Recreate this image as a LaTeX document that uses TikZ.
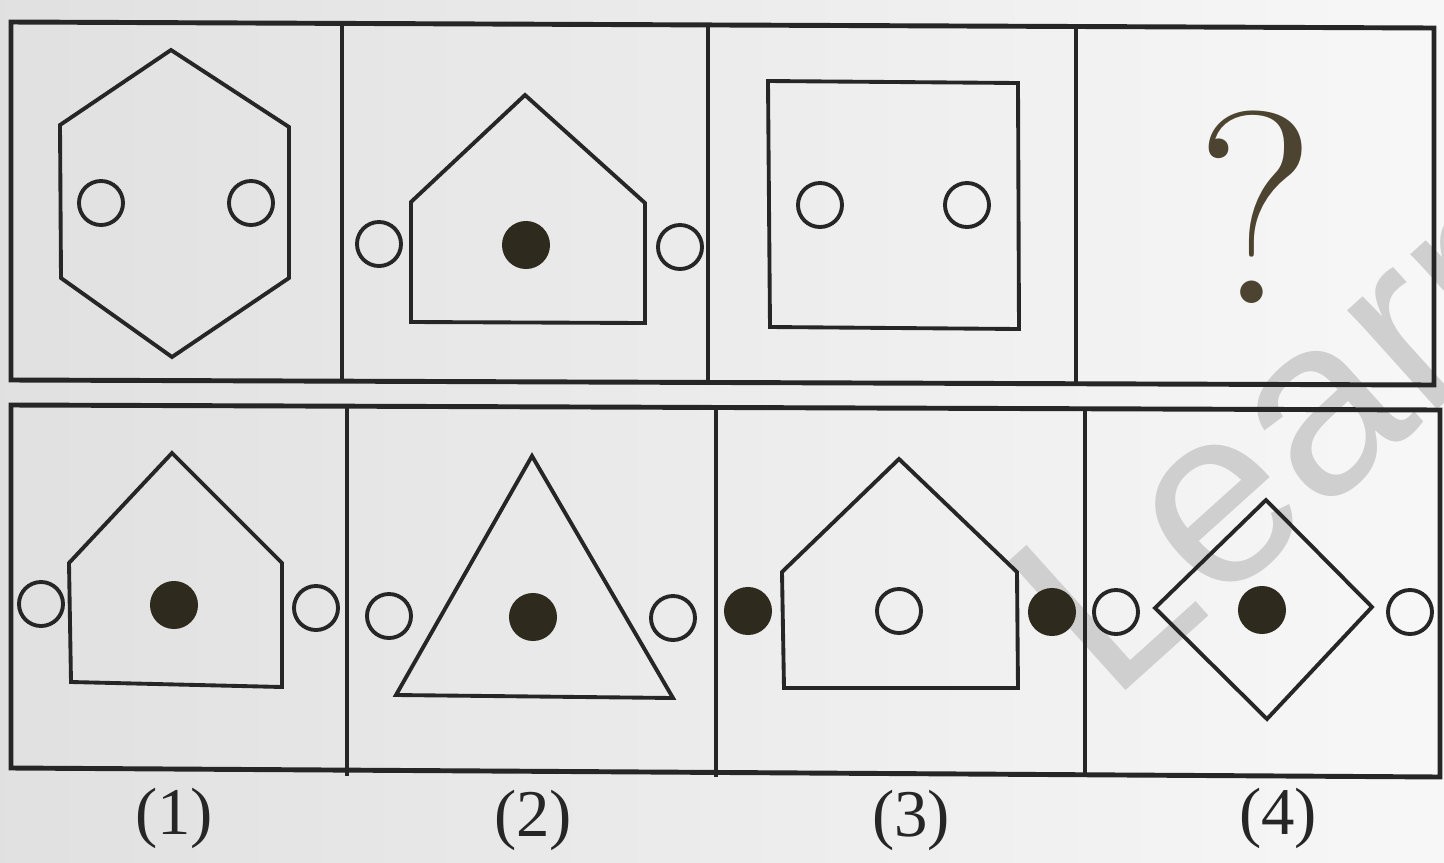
\documentclass[tikz,border=0pt]{standalone}
\usepackage{fontspec}
\newfontfamily\tagfont{Liberation Serif}
\newfontfamily\wmfont{Liberation Sans}
\usetikzlibrary{positioning}
\definecolor{ink}{HTML}{262626}
\definecolor{blot}{HTML}{2E2A1E}
\definecolor{qmark}{HTML}{4C4430}
\tikzset{
    x=0.01cm, y=-0.01cm,
    frame/.style={
        draw=ink,
        line width=1.4pt
    },
    fig/.style={
        draw=ink,
        line width=1.1pt,
        line join=miter
    },
    hole/.style={
        circle,
        draw=ink,
        line width=1.1pt,
        minimum size=0.44cm,
        inner sep=0pt
    },
    dot/.style={
        circle,
        fill=blot,
        minimum size=0.48cm,
        inner sep=0pt
    },
    tag/.style={
        text=ink,
        font=\tagfont\fontsize{19}{22}\selectfont
    }
}

\begin{document}
\begin{tikzpicture}
    \useasboundingbox (0,0) rectangle (1444,863);
    \shade[left color=gray!24, right color=gray!6] (0,0) rectangle (1444,863);

    % watermark, under the figures
    \node[rotate=42, anchor=base west, inner sep=0pt, text=gray!38,
          font=\wmfont\fontsize{72}{72}\selectfont] (wm) at (1110,705) {Learn};

    % question row
    \draw[frame] (11,22) -- (1434,28) -- (1434,385) -- (11,380) -- cycle;
    \draw[frame] (342,23) -- (342,381);
    \draw[frame] (708,25) -- (708,382);
    \draw[frame] (1076,27) -- (1076,384);

    \draw[fig] (171,50) -- (289,127) -- (289,278) -- (172,357) -- (61,278) -- (60,125) -- cycle;
    \node[hole] (p1a) at (101,203) {};
    \node[hole] (p1b) at (251,203) {};

    \draw[fig] (525,95) -- (645,203) -- (645,323) -- (411,322) -- (411,202) -- cycle;
    \node[dot] (p2c) at (526,245) {};
    \node[hole] (p2a) at (379,244) {};
    \node[hole] (p2b) at (680,247) {};

    \draw[fig] (768,81) -- (1018,83) -- (1019,329) -- (770,327) -- cycle;
    \node[hole] (p3a) at (820,205) {};
    \node[hole] (p3b) at (967,205) {};

    \node[text=qmark, font=\fontsize{78}{80}\selectfont] (qm) at (1256,207) {?};

    % answer row
    \draw[frame] (11,405) -- (1440,410) -- (1440,777) -- (11,768) -- cycle;
    \draw[frame] (347,406) -- (347,776);
    \draw[frame] (716,407) -- (716,777);
    \draw[frame] (1085,408) -- (1085,777);

    \draw[fig] (172,453) -- (282,563) -- (282,687) -- (71,682) -- (69,563) -- cycle;
    \node[dot] (a1c) at (174,605) {};
    \node[hole] (a1a) at (41,604) {};
    \node[hole] (a1b) at (316,608) {};

    \draw[fig] (532,456) -- (673,698) -- (396,695) -- cycle;
    \node[dot] (a2c) at (533,617) {};
    \node[hole] (a2a) at (389,616) {};
    \node[hole] (a2b) at (673,618) {};

    \draw[fig] (899,459) -- (1017,572) -- (1018,688) -- (784,688) -- (782,572) -- cycle;
    \node[hole] (a3c) at (899,611) {};
    \node[dot] (a3a) at (748,611) {};
    \node[dot] (a3b) at (1052,612) {};

    \draw[fig] (1266,500) -- (1372,607) -- (1267,719) -- (1155,608) -- cycle;
    \node[dot] (a4c) at (1262,610) {};
    \node[hole] (a4a) at (1116,612) {};
    \node[hole] (a4b) at (1410,612) {};

    \node[tag] (t1) at (174,818) {(1)};
    \node[tag] (t2) at (533,820) {(2)};
    \node[tag] (t3) at (911,820) {(3)};
    \node[tag] (t4) at (1278,818) {(4)};
\end{tikzpicture}
\end{document}
